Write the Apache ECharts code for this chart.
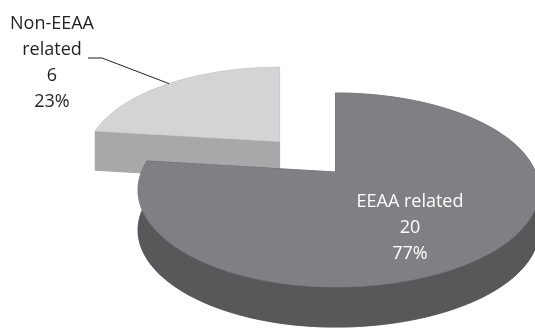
<!DOCTYPE html>
<html><head><meta charset="utf-8">
<script src="https://cdn.jsdelivr.net/npm/echarts@6/dist/echarts.min.js"></script>
<style>html,body{margin:0;padding:0;background:#fff}#c{width:535px;height:330px}</style>
</head><body><div id="c"></div>
<script>
// ---- data ----
const categories = ['EEAA related', 'Non-EEAA related'];
const values = [20, 6];

// ---- styling / layout (not data) ----
const explode = [0, 0.463];
const topColors = ['#808084', '#d4d4d6'];
const sideColors = ['#58585b', '#a8a8ab'];
const labelPos = [[410, 228], [52, 63]];
const labelColor = ['#ffffff', '#231f20'];
const labelWrap = [false, true];
const leaderElbow = [null, [[102, 58], [88, 58]]];

const total = values.reduce((a, b) => a + b, 0);
const CX = 335.5, CY = 172, AXL = 194, AXR = 200, AY = 93.7, K = 0.186, DEPTH = 40;

function sliceAngles(i) {
  let s = 0;
  for (let j = 0; j < i; j++) s += values[j];
  return [s / total * 2 * Math.PI, (s + values[i]) / total * 2 * Math.PI];
}
function ax(u) { return u < 0 ? AXL : AXR; }
function sliceFrame(i) {
  const [a0, a1] = sliceAngles(i);
  const mid = (a0 + a1) / 2, e = explode[i];
  const u = e * Math.sin(mid), v = e * Math.cos(mid), z = 1 + K * v;
  return { ox: CX + ax(u) * u / z, oy: CY - AY * v / z, sx: Math.pow(z, -0.35), sy: 1 / z, a0, a1, mid };
}
function proj(f, u, v) {
  const z = 1 + K * v;
  return [f.ox + f.sx * ax(u) * u / z, f.oy - f.sy * AY * v / z];
}
const frames = values.map((_, i) => sliceFrame(i));
const order = frames.map((f, i) => i).sort((a, b) => frames[a].oy - frames[b].oy);

function renderItem(params, api) {
  const i = params.dataIndex;
  const f = frames[i];
  const base = order.indexOf(i) * 10;
  const n = Math.max(4, Math.ceil((f.a1 - f.a0) / (2 * Math.PI) * 240));
  const arc = [];
  for (let k = 0; k <= n; k++) {
    const a = f.a0 + (f.a1 - f.a0) * k / n;
    arc.push(proj(f, Math.sin(a), Math.cos(a)));
  }
  const apex = [f.ox, f.oy];
  const pts = [apex].concat(arc);
  const d = DEPTH * f.sx;
  const down = p => [p[0], p[1] + d];
  const side = sideColors[i];
  const sstyle = { fill: side, stroke: side, lineWidth: 0.6 };
  const children = [];
  children.push({ type: 'polygon', shape: { points: pts.map(down) }, style: sstyle, z2: base });
  children.push({ type: 'polygon', shape: { points: arc.concat(arc.slice().reverse().map(down)) }, style: sstyle, z2: base + 1 });
  [arc[0], arc[arc.length - 1]].forEach(p => {
    children.push({ type: 'polygon', shape: { points: [apex, p, down(p), down(apex)] }, style: sstyle, z2: base + 1 });
  });
  children.push({ type: 'polygon', shape: { points: pts },
    style: { fill: topColors[i], stroke: topColors[i], lineWidth: 0.5 }, z2: base + 2 });

  const pct = Math.round(values[i] / total * 100) + '%';
  const name = labelWrap[i] ? categories[i].replace(' ', '\n') : categories[i];
  children.push({ type: 'text', z2: 100,
    style: { text: name + '\n' + values[i] + '\n' + pct, x: labelPos[i][0], y: labelPos[i][1],
      align: 'center', verticalAlign: 'middle', fill: labelColor[i],
      fontSize: 18, fontFamily: '"Open Sans"', lineHeight: 26 } });
  if (leaderElbow[i]) {
    const m = proj(f, Math.sin(f.mid), Math.cos(f.mid));
    children.push({ type: 'polyline', z2: 99,
      shape: { points: [m].concat(leaderElbow[i]) },
      style: { stroke: '#231f20', lineWidth: 1, fill: null } });
  }
  return { type: 'group', children };
}

const chart = echarts.init(document.getElementById('c'));
chart.setOption({
  animation: false,
  series: [{
    type: 'custom',
    coordinateSystem: 'none',
    renderItem,
    data: values.map((v, i) => ({ name: categories[i], value: v }))
  }]
});
</script></body></html>
